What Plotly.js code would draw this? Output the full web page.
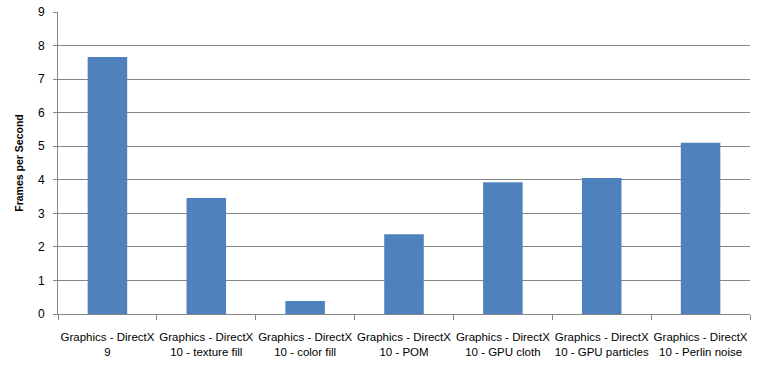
<!DOCTYPE html>
<html>
<head>
<meta charset="utf-8">
<script src="https://cdn.plot.ly/plotly-3.0.1.min.js"></script>
<style>html,body{margin:0;padding:0;background:#fff;}#chart{width:760px;height:367px;}</style>
</head>
<body>
<div id="chart"></div>
<script>
const categories = [
  "Graphics - DirectX<br>9",
  "Graphics - DirectX<br>10 - texture fill",
  "Graphics - DirectX<br>10 - color fill",
  "Graphics - DirectX<br>10 - POM",
  "Graphics - DirectX<br>10 - GPU cloth",
  "Graphics - DirectX<br>10 - GPU particles",
  "Graphics - DirectX<br>10 - Perlin noise"
];
const fps = [7.66, 3.46, 0.39, 2.38, 3.93, 4.05, 5.10];
const yTicks = [0, 1, 2, 3, 4, 5, 6, 7, 8, 9];

const trace = {
  type: "bar",
  x: categories,
  y: fps,
  marker: {color: "#4f81bd"},
  hoverinfo: "x+y"
};

const layout = {
  width: 760,
  height: 367,
  margin: {l: 58, r: 10, t: 12, b: 53},
  paper_bgcolor: "#ffffff",
  plot_bgcolor: "#ffffff",
  bargap: 0.6,
  showlegend: false,
  font: {family: "Liberation Sans, Arial, sans-serif", size: 11, color: "#000000"},
  xaxis: {
    type: "category",
    showgrid: false,
    showline: true,
    linecolor: "#868686",
    linewidth: 1,
    ticks: "outside",
    tickson: "boundaries",
    ticklen: 5,
    tickcolor: "#868686",
    tickfont: {size: 11.5, color: "#000000"},
    tickangle: 0,
    ticklabelstandoff: 12,
    automargin: false
  },
  yaxis: {
    range: [0, 9],
    tickvals: yTicks,
    showgrid: true,
    gridcolor: "#868686",
    gridwidth: 1,
    showline: true,
    linecolor: "#868686",
    linewidth: 1,
    ticks: "outside",
    ticklen: 4,
    tickcolor: "#868686",
    tickfont: {size: 12, color: "#000000"},
    ticklabelstandoff: 6,
    zeroline: false,
    automargin: false,
    title: {text: "Frames per Second", font: {size: 10.5, color: "#000000", family: "Liberation Sans, Arial, sans-serif", weight: "bold"}, standoff: 12}
  }
};

Plotly.newPlot("chart", [trace], layout, {displayModeBar: false, staticPlot: true});
</script>
</body>
</html>
